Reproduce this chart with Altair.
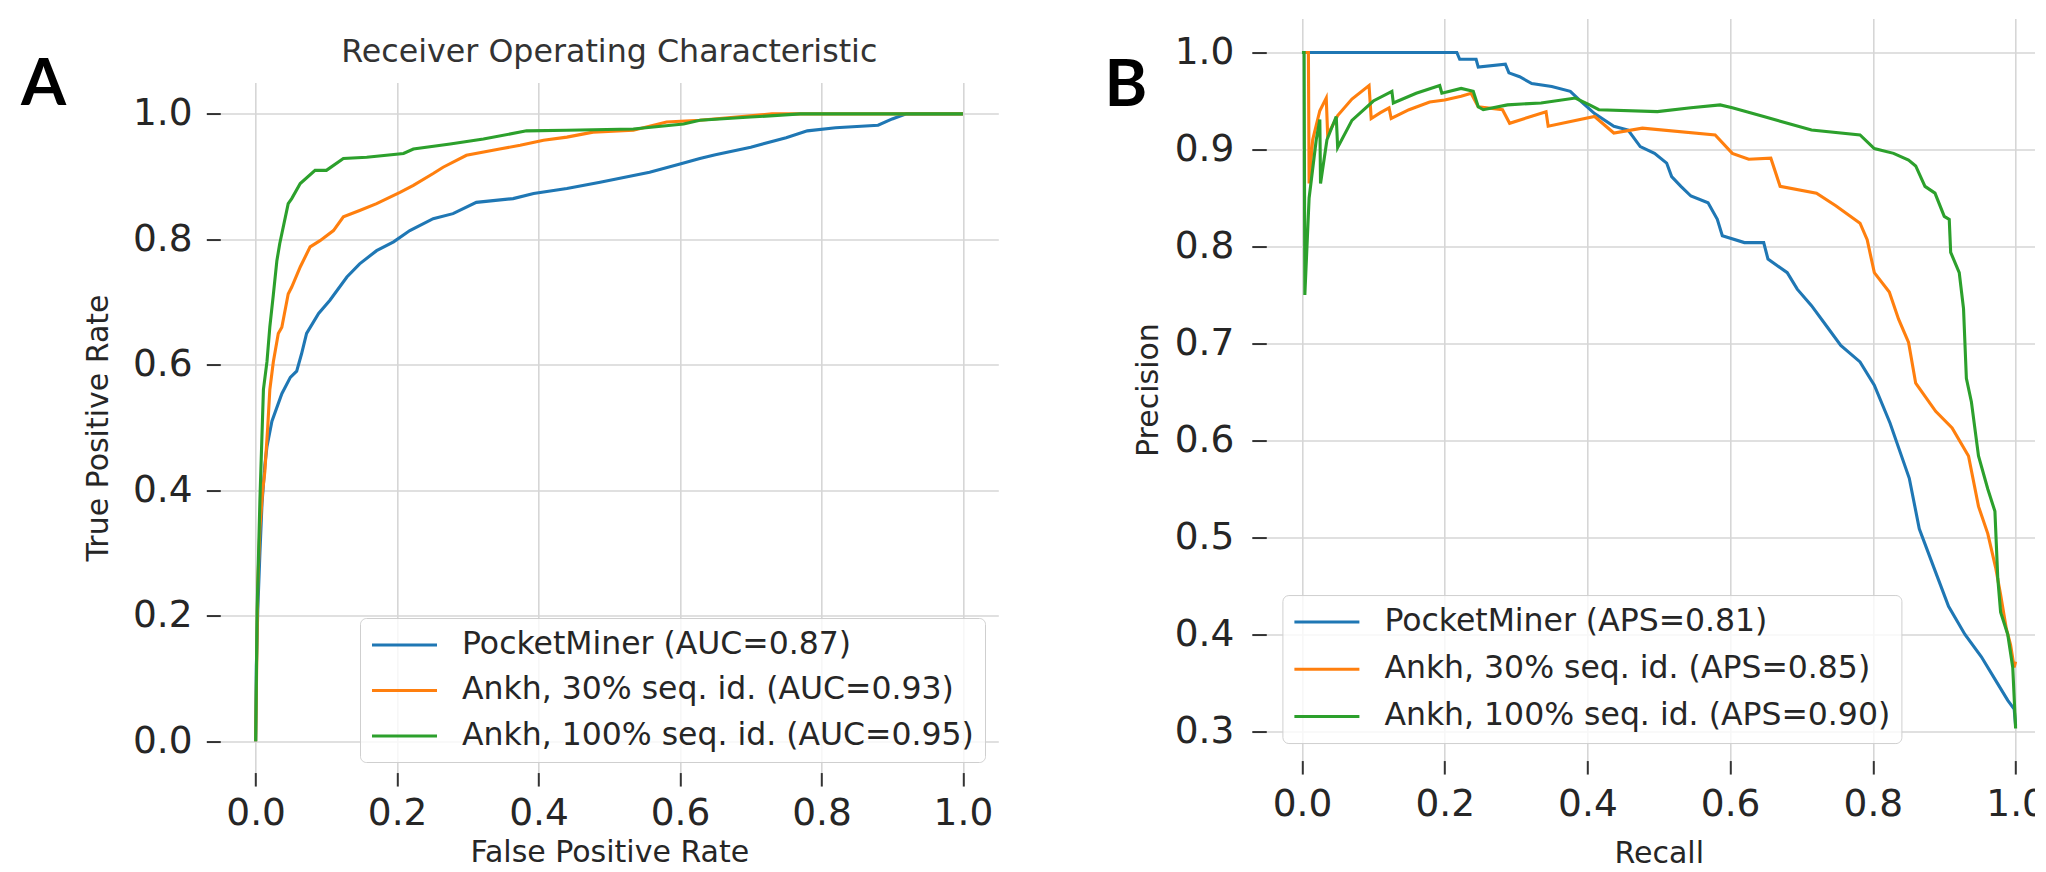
import altair as alt
import pandas as pd

# ---------------- data ----------------
roc_labels = ["PocketMiner (AUC=0.87)", "Ankh, 30% seq. id. (AUC=0.93)", "Ankh, 100% seq. id. (AUC=0.95)"]
pr_labels = ["PocketMiner (APS=0.81)", "Ankh, 30% seq. id. (APS=0.85)", "Ankh, 100% seq. id. (APS=0.90)"]
colors = ["#1f77b4", "#ff7f0e", "#2ca02c"]

roc_pm_fpr = [0, 0.001, 0.003, 0.006, 0.009, 0.013, 0.016, 0.023, 0.037, 0.049, 0.058, 0.065, 0.072, 0.089, 0.105, 0.129, 0.147, 0.171, 0.195, 0.218, 0.251, 0.279, 0.312, 0.364, 0.393, 0.44, 0.487, 0.557, 0.60, 0.628, 0.65, 0.70, 0.75, 0.78, 0.82, 0.88, 0.90, 0.92, 1.0]
roc_pm_tpr = [0, 0.12, 0.21, 0.30, 0.38, 0.44, 0.47, 0.51, 0.554, 0.58, 0.59, 0.618, 0.65, 0.682, 0.703, 0.740, 0.761, 0.782, 0.796, 0.814, 0.833, 0.841, 0.859, 0.865, 0.873, 0.881, 0.891, 0.907, 0.92, 0.929, 0.935, 0.947, 0.962, 0.973, 0.978, 0.982, 0.992, 1.0, 1.0]

roc_a30_fpr = [0, 0.003, 0.006, 0.01, 0.013, 0.017, 0.020, 0.025, 0.032, 0.037, 0.046, 0.051, 0.063, 0.077, 0.091, 0.110, 0.124, 0.147, 0.171, 0.204, 0.223, 0.251, 0.265, 0.298, 0.345, 0.374, 0.407, 0.44, 0.477, 0.534, 0.581, 0.628, 0.68, 0.73, 1.0]
roc_a30_tpr = [0, 0.25, 0.34, 0.40, 0.43, 0.50, 0.56, 0.605, 0.650, 0.66, 0.713, 0.724, 0.756, 0.788, 0.798, 0.814, 0.836, 0.846, 0.857, 0.875, 0.886, 0.905, 0.915, 0.934, 0.944, 0.950, 0.958, 0.963, 0.971, 0.974, 0.987, 0.99, 0.995, 1.0, 1.0]

roc_a100_fpr = [0, 0.001, 0.002, 0.006, 0.011, 0.016, 0.020, 0.025, 0.030, 0.034, 0.046, 0.051, 0.063, 0.084, 0.10, 0.124, 0.157, 0.209, 0.223, 0.275, 0.322, 0.383, 0.44, 0.534, 0.605, 0.628, 0.70, 0.77, 1.0]
roc_a100_tpr = [0, 0.10, 0.207, 0.384, 0.561, 0.605, 0.66, 0.712, 0.766, 0.793, 0.857, 0.865, 0.889, 0.910, 0.910, 0.929, 0.931, 0.937, 0.944, 0.952, 0.960, 0.973, 0.974, 0.976, 0.984, 0.99, 0.995, 1.0, 1.0]

pr_pm_rec = [0.0, 0.217, 0.221, 0.244, 0.247, 0.285, 0.29, 0.305, 0.322, 0.35, 0.376, 0.389, 0.41, 0.437, 0.457, 0.474, 0.494, 0.511, 0.518, 0.531, 0.545, 0.569, 0.582, 0.589, 0.62, 0.647, 0.653, 0.68, 0.694, 0.714, 0.735, 0.755, 0.782, 0.802, 0.824, 0.851, 0.865, 0.888, 0.906, 0.929, 0.952, 0.975, 0.989, 0.998, 1.0]
pr_pm_prec = [1.0, 1.0, 0.993, 0.993, 0.985, 0.988, 0.979, 0.975, 0.968, 0.965, 0.96, 0.951, 0.937, 0.924, 0.92, 0.903, 0.896, 0.886, 0.872, 0.862, 0.852, 0.845, 0.828, 0.811, 0.804, 0.804, 0.787, 0.773, 0.756, 0.739, 0.718, 0.698, 0.681, 0.657, 0.618, 0.561, 0.509, 0.464, 0.429, 0.40, 0.377, 0.349, 0.332, 0.323, 0.306]

pr_a30_rec = [0.0, 0.009, 0.010, 0.015, 0.025, 0.034, 0.036, 0.05, 0.07, 0.094, 0.097, 0.11, 0.122, 0.125, 0.15, 0.179, 0.2, 0.223, 0.237, 0.247, 0.281, 0.291, 0.342, 0.345, 0.41, 0.437, 0.477, 0.579, 0.603, 0.626, 0.657, 0.670, 0.721, 0.748, 0.782, 0.792, 0.802, 0.823, 0.836, 0.850, 0.860, 0.888, 0.911, 0.934, 0.948, 0.961, 0.972, 0.979, 0.987, 0.993, 0.998, 1.0]
pr_a30_prec = [1.0, 1.0, 0.865, 0.91, 0.94, 0.953, 0.915, 0.935, 0.952, 0.966, 0.932, 0.938, 0.943, 0.932, 0.941, 0.949, 0.951, 0.955, 0.958, 0.944, 0.941, 0.927, 0.939, 0.924, 0.934, 0.917, 0.922, 0.915, 0.896, 0.89, 0.891, 0.862, 0.855, 0.842, 0.824, 0.807, 0.773, 0.753, 0.725, 0.701, 0.659, 0.63, 0.613, 0.584, 0.532, 0.504, 0.469, 0.441, 0.406, 0.389, 0.366, 0.372]

pr_a100_rec = [0.0, 0.003, 0.004, 0.01, 0.02, 0.025, 0.026, 0.035, 0.048, 0.05, 0.07, 0.1, 0.126, 0.128, 0.16, 0.193, 0.196, 0.223, 0.24, 0.247, 0.254, 0.288, 0.335, 0.383, 0.403, 0.416, 0.498, 0.545, 0.586, 0.603, 0.647, 0.714, 0.782, 0.802, 0.829, 0.85, 0.86, 0.873, 0.887, 0.9, 0.907, 0.909, 0.921, 0.927, 0.931, 0.938, 0.948, 0.961, 0.971, 0.975, 0.979, 0.989, 0.996, 1.0]
pr_a100_prec = [1.0, 1.0, 0.75, 0.85, 0.91, 0.931, 0.865, 0.91, 0.934, 0.902, 0.93, 0.95, 0.96, 0.948, 0.958, 0.966, 0.958, 0.963, 0.96, 0.944, 0.941, 0.946, 0.948, 0.953, 0.946, 0.941, 0.939, 0.943, 0.946, 0.943, 0.934, 0.92, 0.915, 0.901, 0.896, 0.889, 0.883, 0.862, 0.855, 0.831, 0.828, 0.794, 0.773, 0.736, 0.664, 0.64, 0.584, 0.55, 0.527, 0.458, 0.423, 0.40, 0.366, 0.303]

roc_ticks = [0.0, 0.2, 0.4, 0.6, 0.8, 1.0]
pr_x_ticks = [0.0, 0.2, 0.4, 0.6, 0.8, 1.0]
pr_y_ticks = [0.3, 0.4, 0.5, 0.6, 0.7, 0.8, 0.9, 1.0]


def to_frame(labels, xs_list, ys_list):
    rows = []
    for lab, xs, ys in zip(labels, xs_list, ys_list):
        for i, (x, y) in enumerate(zip(xs, ys)):
            rows.append({"series": lab, "x": x, "y": y, "i": i})
    return pd.DataFrame(rows)


roc_df = to_frame(roc_labels, [roc_pm_fpr, roc_a30_fpr, roc_a100_fpr], [roc_pm_tpr, roc_a30_tpr, roc_a100_tpr])
pr_df = to_frame(pr_labels, [pr_pm_rec, pr_a30_rec, pr_a100_rec], [pr_pm_prec, pr_a30_prec, pr_a100_prec])

# ---------------- styling ----------------
FONT = "DejaVu Sans"
TXT = "#262626"
GRID = "#d6d6d6"
TICK_FS = 37.5
TITLE_FS = 30
LINE_W = 3.1

W_A, H_A = 778, 690
W_B, H_B = 785, 742


def x_axis(values, title, tick, lpad, title_y):
    return alt.Axis(values=values, format=".1f", title=title, grid=True, gridColor=GRID, gridWidth=1.6,
                    domain=False, tickSize=tick, tickWidth=2, tickColor="#333333",
                    labelFont=FONT, labelFontSize=TICK_FS, labelColor=TXT, labelPadding=lpad,
                    labelBaseline="top", labelAlign="center", labelAngle=0,
                    labelFlush=False, labelOverlap=False,
                    titleFont=FONT, titleFontSize=TITLE_FS, titleFontWeight="normal", titleColor=TXT,
                    titleBaseline="top", titleY=title_y)


def y_axis(values, title, tick, lpad, tpad):
    return alt.Axis(values=values, format=".1f", title=title, grid=True, gridColor=GRID, gridWidth=1.6,
                    domain=False, tickSize=tick, tickWidth=2, tickColor="#333333",
                    labelFont=FONT, labelFontSize=TICK_FS, labelColor=TXT, labelPadding=lpad,
                    labelFlush=False, labelOverlap=False,
                    titleFont=FONT, titleFontSize=TITLE_FS, titleFontWeight="normal", titleColor=TXT,
                    titlePadding=tpad)


def legend(lx, ly, rowpad):
    return alt.Legend(orient="none", legendX=lx, legendY=ly, title=None,
                      symbolType="M-2.1667,0L2.1667,0", symbolSize=900, symbolStrokeWidth=3,
                      symbolOffset=17.5, labelOffset=41,
                      labelFont=FONT, labelFontSize=31.5, labelColor=TXT,
                      rowPadding=rowpad, padding=10.5,
                      fillColor="rgba(255,255,255,0.8)", strokeColor="#cfcfcf", cornerRadius=6,
                      labelLimit=1000)


def invisible(x, y):
    return alt.Chart(pd.DataFrame({"a": [0]})).mark_rule(opacity=0).encode(
        x=alt.value(x), x2=alt.value(x), y=alt.value(y), y2=alt.value(y))


# ---------------- panel A : ROC ----------------
roc_lines = alt.Chart(roc_df).mark_line(strokeWidth=LINE_W).encode(
    x=alt.X("x:Q", scale=alt.Scale(domain=[-0.05, 1.05], nice=False, zero=False),
            axis=x_axis(roc_ticks, "False Positive Rate", 13.5, 8, 65)),
    y=alt.Y("y:Q", scale=alt.Scale(domain=[-0.05, 1.05], nice=False, zero=False),
            axis=y_axis(roc_ticks, "True Positive Rate", 14, 14.3, 19)),
    color=alt.Color("series:N", scale=alt.Scale(domain=roc_labels, range=colors),
                    legend=legend(139.7, 599.45, 13.5)),
    order=alt.Order("i:Q"),
)

roc_title = alt.Chart(pd.DataFrame({"t": ["Receiver Operating Characteristic"]})).mark_text(
    font=FONT, fontSize=31.7, color="#333333", align="center", baseline="alphabetic"
).encode(text="t:N", x=alt.value(W_A / 2), y=alt.value(-20.4))

letter_a = alt.Chart(pd.DataFrame({"t": ["A"]})).mark_text(
    font="Lato", fontSize=65, fontWeight="bold", color="black", align="center", baseline="alphabetic"
).encode(text="t:N", x=alt.value(-176.8), y=alt.value(22.9))

panel_a = alt.layer(roc_lines, roc_title, letter_a, invisible(-200, -53.55)).properties(width=W_A, height=H_A)

spacer = invisible(0, 0).properties(width=W_A, height=10)
cell_a = alt.vconcat(spacer, panel_a, spacing=0)

# ---------------- panel B : Precision-Recall ----------------
pr_lines = alt.Chart(pr_df).mark_line(strokeWidth=LINE_W).encode(
    x=alt.X("x:Q", scale=alt.Scale(domain=[-0.05, 1.05], nice=False, zero=False),
            axis=x_axis(pr_x_ticks, "Recall", 13.5, 11, 77.5)),
    y=alt.Y("y:Q", scale=alt.Scale(domain=[0.27, 1.035], nice=False, zero=False),
            axis=y_axis(pr_y_ticks, "Precision", 14.5, 18, 11)),
    color=alt.Color("series:N", scale=alt.Scale(domain=pr_labels, range=colors),
                    legend=legend(16.1, 576.5, 15.2)),
    order=alt.Order("i:Q"),
)

letter_b = alt.Chart(pd.DataFrame({"t": ["B"]})).mark_text(
    font="Lato", fontSize=65, fontWeight="bold", color="black", align="center", baseline="alphabetic"
).encode(text="t:N", x=alt.value(-140.4), y=alt.value(87.45))

panel_b = alt.layer(pr_lines, letter_b, invisible(-170, -5)).properties(width=W_B, height=H_B)

# the reference is cropped at its right edge: a negative right padding trims the
# last few pixels of panel B so the page itself does not overflow
chart = alt.hconcat(cell_a, panel_b, spacing=98).resolve_scale(
    x="independent", y="independent", color="independent"
).properties(
    padding={"left": 12.3, "top": 5.55, "right": -16, "bottom": 0},
    background="white",
).configure_view(stroke=None)

chart.save("out.html", embed_options={"renderer": "svg", "actions": False})
